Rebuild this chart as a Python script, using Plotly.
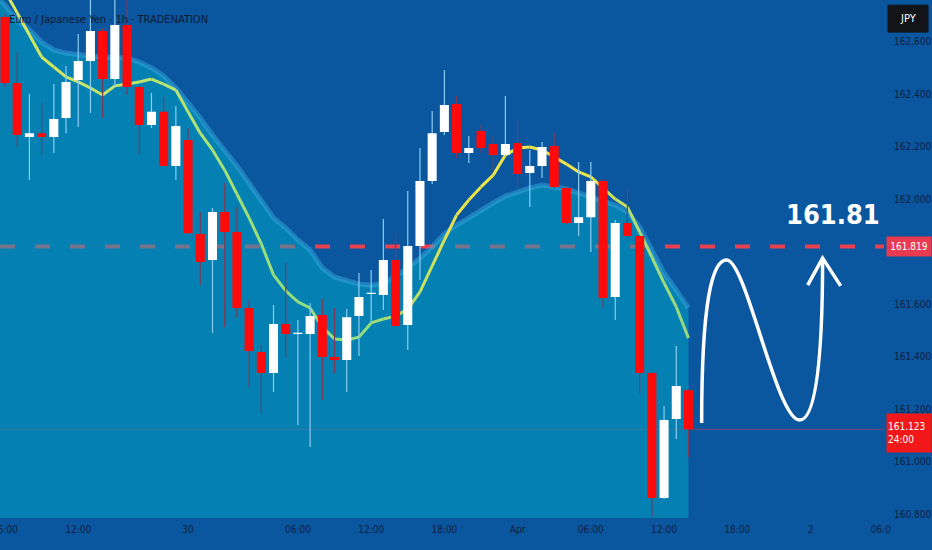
import plotly.graph_objects as go

# ---------------- data ----------------
bars = list(range(57))  # hourly bars, 0 = Mar 28 06:00 (weekend gap skipped)
open_ = [162.693, 162.442, 162.236, 162.251, 162.236, 162.309, 162.453, 162.526, 162.640, 162.457,
         162.663, 162.427, 162.282, 162.332, 162.126, 162.225, 161.867, 161.768, 161.951, 161.874,
         161.585, 161.417, 161.337, 161.524, 161.486, 161.486, 161.558, 161.398, 161.387, 161.554,
         161.638, 161.634, 161.768, 161.520, 161.821, 162.069, 162.255, 162.362, 162.175, 162.259,
         162.210, 162.168, 162.213, 162.099, 162.126, 162.202, 162.042, 161.909, 161.931, 162.069,
         161.627, 161.909, 161.859, 161.337, 160.861, 161.162, 161.272]
high = [162.705, 162.560, 162.400, 162.370, 162.438, 162.507, 162.629, 162.789, 162.651, 162.777,
        162.770, 162.430, 162.404, 162.389, 162.354, 162.271, 161.951, 161.966, 162.061, 161.970,
        161.615, 161.444, 161.596, 161.756, 161.539, 161.604, 161.619, 161.585, 161.581, 161.718,
        161.730, 161.924, 161.870, 162.031, 162.194, 162.335, 162.491, 162.392, 162.240, 162.282,
        162.236, 162.392, 162.305, 162.187, 162.217, 162.251, 162.045, 162.141, 162.141, 162.076,
        161.920, 162.038, 161.862, 161.340, 161.212, 161.440, 161.275]
low = [162.427, 162.198, 162.072, 162.168, 162.175, 162.251, 162.274, 162.328, 162.309, 162.427,
       162.396, 162.168, 162.271, 162.122, 162.072, 161.870, 161.672, 161.490, 161.512, 161.547,
       161.284, 161.185, 161.265, 161.394, 161.139, 161.055, 161.234, 161.337, 161.265, 161.402,
       161.531, 161.577, 161.509, 161.425, 161.692, 162.057, 162.244, 162.156, 162.137, 162.175,
       162.103, 162.160, 162.042, 161.970, 162.080, 162.042, 161.905, 161.859, 161.798, 161.585,
       161.539, 161.852, 161.261, 160.789, 160.857, 161.086, 161.017]
close = [162.442, 162.244, 162.251, 162.236, 162.305, 162.446, 162.526, 162.640, 162.457, 162.663,
         162.427, 162.282, 162.332, 162.126, 162.278, 161.870, 161.760, 161.951, 161.874, 161.585,
         161.421, 161.337, 161.524, 161.486, 161.490, 161.554, 161.398, 161.387, 161.550, 161.627,
         161.642, 161.768, 161.516, 161.821, 162.069, 162.251, 162.358, 162.175, 162.194, 162.194,
         162.168, 162.210, 162.095, 162.126, 162.198, 162.046, 161.909, 161.931, 162.069, 161.623,
         161.909, 161.859, 161.337, 160.861, 161.158, 161.288, 161.123]
ema = [162.792, 162.709, 162.625, 162.541, 162.503, 162.465, 162.446, 162.423, 162.396, 162.431,
       162.438, 162.446, 162.457, 162.438, 162.415, 162.332, 162.251, 162.187, 162.110, 162.019,
       161.928, 161.829, 161.711, 161.650, 161.608, 161.585, 161.512, 161.467, 161.463, 161.474,
       161.528, 161.543, 161.554, 161.581, 161.646, 161.745, 161.844, 161.939, 161.996, 162.046,
       162.091, 162.168, 162.194, 162.198, 162.187, 162.160, 162.133, 162.103, 162.084, 162.042,
       162.000, 161.970, 161.874, 161.779, 161.680, 161.589, 161.470]
band_x = [-0.41] + bars
band = [162.758, 162.739, 162.682, 162.644, 162.598, 162.568, 162.556, 162.549, 162.545, 162.541, 162.541,
        162.537, 162.522, 162.499, 162.469, 162.423, 162.366, 162.309, 162.244, 162.187, 162.126,
        162.061, 161.996, 161.928, 161.890, 161.844, 161.806, 161.737, 161.703, 161.688, 161.676,
        161.672, 161.680, 161.707, 161.737, 161.775, 161.817, 161.867, 161.901, 161.928, 161.958,
        161.985, 162.011, 162.027, 162.042, 162.053, 162.046, 162.038, 162.023, 162.008, 161.996,
        161.977, 161.951, 161.893, 161.806, 161.718, 161.653, 161.585]
target_level = 161.819
last_price = 161.123
countdown = "24:00"
target_text = "161.81"
x_tick_pos = [0, 6, 15, 24, 30, 36, 42, 48, 54, 60, 66, 72]
x_tick_text = ["06:00", "12:00", "30", "06:00", "12:00", "18:00", "Apr", "06:00", "12:00", "18:00", "2", "06:00"]
y_ticks = [160.8, 161.0, 161.2, 161.4, 161.6, 162.0, 162.2, 162.4, 162.6]
title_text = "Euro / Japanese Yen · 1h · TRADENATION"
# hand-drawn projection curve (bar, price)
wave_start = (57.08, 161.147)
wave_peak = (59.13, 161.768)
wave_trough = (65.11, 161.158)
wave_tip = (66.99, 161.775)
arrow_left = (65.77, 161.672)
arrow_right = (68.47, 161.669)

# ---------------- styling ----------------
BG = "#0A569F"
NARROW = "Liberation Sans Narrow, DejaVu Sans Condensed, Arial Narrow, sans-serif"
AXIS_TXT = "#0F2142"
X_RANGE = [-0.41, 72.02]
Y_RANGE = [160.785, 162.7581]
HALF = 0.37  # half body width in bars

fig = go.Figure()

# current price line and target dashed line (below the cloud fill)
fig.add_trace(go.Scatter(x=X_RANGE, y=[last_price, last_price], mode="lines",
                         line=dict(color="rgba(235,60,80,0.5)", width=1), hoverinfo="skip"))
fig.add_trace(go.Scatter(x=X_RANGE, y=[target_level, target_level], mode="lines",
                         line=dict(color="#E8404F", width=4, dash="15px,20px"), hoverinfo="skip"))

# cloud fill
fig.add_trace(go.Scatter(x=band_x, y=band, mode="lines", fill="tozeroy",
                         fillcolor="rgba(0,170,200,0.5)", line=dict(width=0), hoverinfo="skip"))
fig.add_trace(go.Scatter(x=band_x, y=band, mode="lines",
                         line=dict(color="rgba(60,175,228,0.45)", width=5), hoverinfo="skip"))

# EMA with gradient colour
stops = [(0, (215, 232, 95)), (14, (185, 228, 112)), (22, (150, 222, 125)), (30, (150, 222, 125)),
         (38, (240, 228, 72)), (48, (238, 228, 75)), (52, (170, 222, 118)), (56, (150, 216, 128))]


def col_at(t):
    for (a, ca), (b, cb) in zip(stops[:-1], stops[1:]):
        if a <= t <= b:
            f = (t - a) / (b - a)
            return "rgb(%d,%d,%d)" % tuple(int(ca[k] + (cb[k] - ca[k]) * f) for k in range(3))
    return "rgb(%d,%d,%d)" % stops[-1][1]


for i in range(len(bars) - 1):
    fig.add_trace(go.Scatter(x=[bars[i], bars[i + 1]], y=[ema[i], ema[i + 1]], mode="lines",
                             line=dict(color=col_at(i + 0.5), width=3), hoverinfo="skip"))

# candles: wicks
up = [c >= o for o, c in zip(open_, close)]
for flag, wcol in ((True, "#8CCDF2"), (False, "#7C3A58")):
    xs, ys = [], []
    for b, h, l, u in zip(bars, high, low, up):
        if u == flag:
            xs += [b, b, None]
            ys += [l, h, None]
    fig.add_trace(go.Scatter(x=xs, y=ys, mode="lines", line=dict(color=wcol, width=1.2), hoverinfo="skip"))

# candles: bodies (filled rectangles on the data scales)
for flag, bcol in ((True, "#FFFFFF"), (False, "#FF0A0A")):
    xs, ys = [], []
    for b, o, c, u in zip(bars, open_, close, up):
        if u != flag:
            continue
        lo, hi = min(o, c), max(o, c)
        if hi - lo < 0.005:
            hi = lo + 0.005
        xs += [b - HALF, b + HALF, b + HALF, b - HALF, b - HALF, None]
        ys += [lo, lo, hi, hi, lo, None]
    fig.add_trace(go.Scatter(x=xs, y=ys, mode="lines", fill="toself", fillcolor=bcol,
                             line=dict(width=0, color=bcol), hoverinfo="skip"))

# hand-drawn wave + arrow
def pt(p):
    return "%.3f,%.4f" % p

c1a = (wave_start[0], (wave_start[1] + wave_peak[1]) / 2 + 0.15)
c1b = (wave_peak[0] - 1.2, wave_peak[1])
c2a = (wave_peak[0] + 1.6, wave_peak[1])
c2b = (wave_trough[0] - 1.9, wave_trough[1])
c3a = (wave_trough[0] + 1.4, wave_trough[1])
c3b = (wave_tip[0], (wave_trough[1] + wave_tip[1]) / 2 - 0.05)
wave_path = ("M " + pt(wave_start) + " C " + pt(c1a) + " " + pt(c1b) + " " + pt(wave_peak) +
             " C " + pt(c2a) + " " + pt(c2b) + " " + pt(wave_trough) +
             " C " + pt(c3a) + " " + pt(c3b) + " " + pt(wave_tip))
arrow_path = "M " + pt(arrow_left) + " L " + pt(wave_tip) + " L " + pt(arrow_right)

shapes = [
    dict(type="path", xref="x", yref="y", path=wave_path, line=dict(color="white", width=3.5), layer="above"),
    dict(type="path", xref="x", yref="y", path=arrow_path, line=dict(color="white", width=3.5), layer="above"),
    # cover for the clipped last time label (price-scale column)
    dict(type="rect", xref="paper", yref="paper", x0=1.0075, x1=1.06, y0=-0.07, y1=-0.001,
         fillcolor=BG, line=dict(width=0), layer="above"),
    # JPY box
    dict(type="rect", xref="paper", yref="paper", x0=1.0045, x1=1.0498, y0=0.938, y1=0.990,
         fillcolor="#121418", line=dict(color="#121418", width=1), layer="above"),
]

annotations = [
    dict(text=title_text, xref="paper", yref="paper", x=0.0075, y=1 - 19 / 518, xanchor="left",
         yanchor="middle", showarrow=False, font=dict(family=NARROW, size=11, color="#0C1A34")),
    dict(text="JPY", xref="paper", yref="paper", x=1.0272, y=0.964, xanchor="center", yanchor="middle",
         showarrow=False, font=dict(family=NARROW, size=11, color="white")),
    dict(text=target_text, xref="x", yref="y", x=67.8, y=161.94, xanchor="center",
         yanchor="middle", showarrow=False, font=dict(family=NARROW, size=27, color="white", weight=600)),
    dict(text="%.3f" % target_level, xref="paper", yref="y", x=1.0023, y=target_level, xanchor="left",
         yanchor="middle", showarrow=False, bgcolor="#E83A50", width=42, height=17, borderpad=1,
         align="center", font=dict(family=NARROW, size=10, color="white")),
    dict(text="%.3f<br>%s" % (last_price, countdown), xref="paper", yref="y", x=1.0023, y=last_price,
         yshift=-4, xanchor="left", yanchor="middle", showarrow=False, bgcolor="#F01818", width=42,
         height=36, borderpad=1, align="left", font=dict(family=NARROW, size=10, color="white")),
]

fig.update_layout(
    width=932, height=550,
    margin=dict(l=0, r=48, t=0, b=32, autoexpand=False),
    paper_bgcolor=BG, plot_bgcolor=BG,
    showlegend=False, hovermode=False,
    shapes=shapes, annotations=annotations,
    xaxis=dict(range=X_RANGE, tickvals=x_tick_pos, ticktext=x_tick_text, showgrid=False, zeroline=False,
               showline=False, ticks="", ticklabelstandoff=4, ticklabeloverflow="allow", automargin=False,
               tickfont=dict(family=NARROW, size=10, color=AXIS_TXT), fixedrange=True),
    yaxis=dict(range=Y_RANGE, side="right", tickvals=y_ticks, ticktext=["%.3f" % v for v in y_ticks],
               showgrid=False, zeroline=False, showline=False, ticks="", ticklabelstandoff=9,
               ticklabeloverflow="allow", automargin=False,
               tickfont=dict(family=NARROW, size=10, color=AXIS_TXT), fixedrange=True),
)

fig.write_html("out.html", config={"displayModeBar": False},
               post_script="document.body.style.margin='0';")
